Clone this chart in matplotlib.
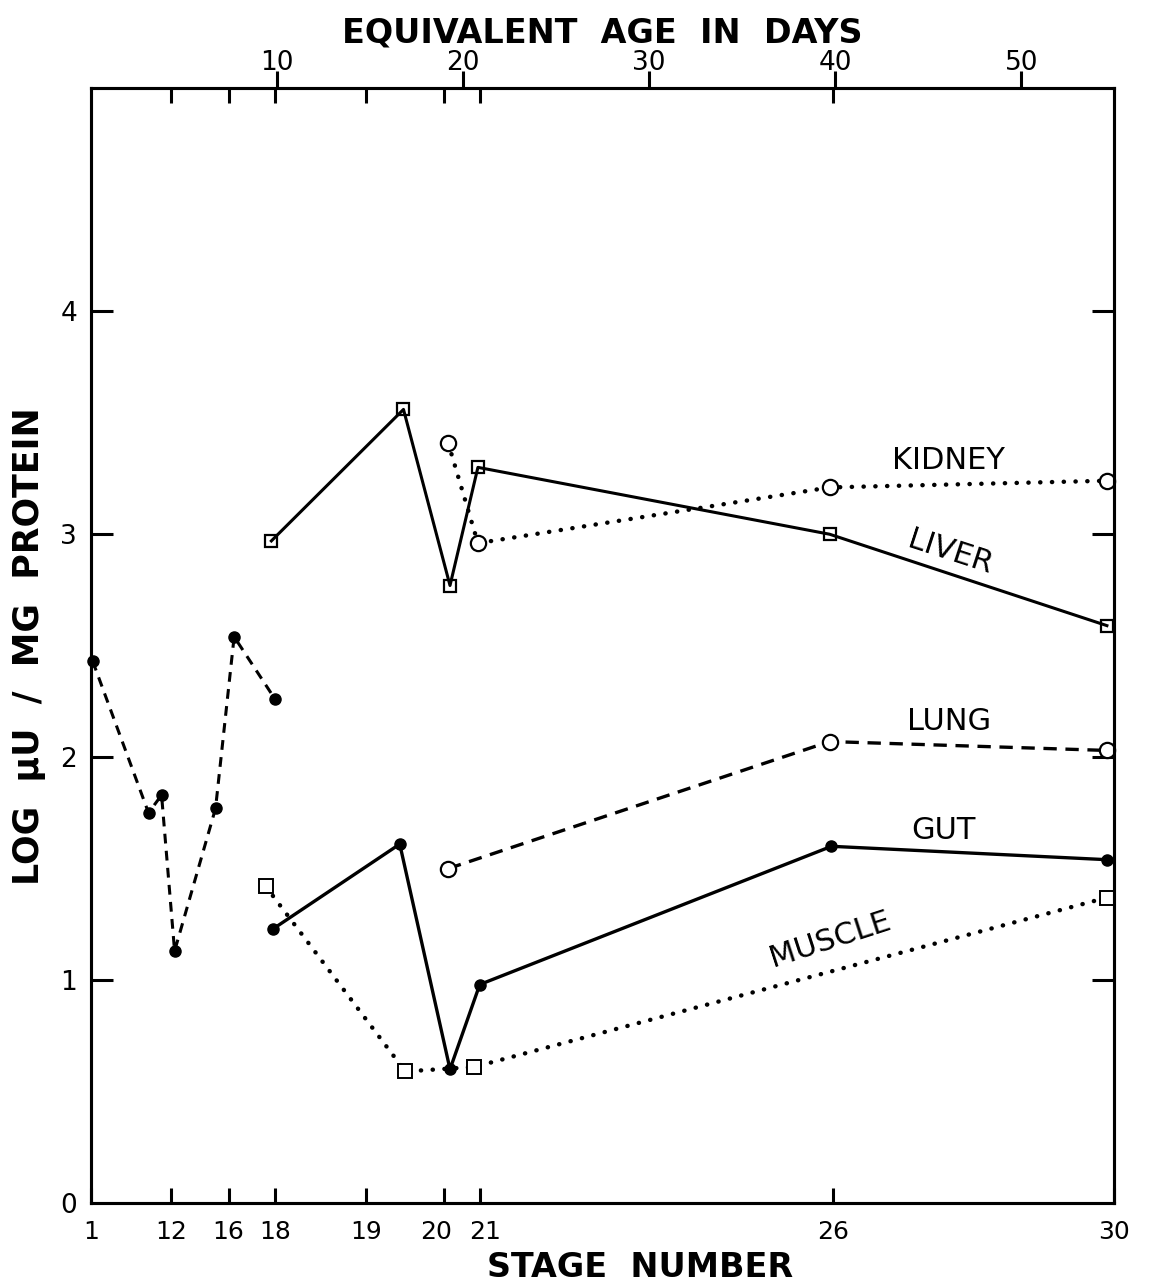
import numpy as np
import matplotlib.pyplot as plt
import matplotlib.transforms as mtransforms

# equivalent age (days) is the data x coordinate; stage numbers sit at these days
stage_labels = ['1', '12', '16', '18', '19', '20', '21', '26', '30']
stage_days = [0, 4.3, 7.4, 9.9, 14.8, 19.0, 20.9, 39.9, 55]
age_ticks = [10, 20, 30, 40, 50]

# early stages (whole embryo), filled circles, dashed
early_x = [0.1, 3.1, 3.8, 4.5, 6.7, 7.7, 9.9]
early_y = [2.43, 1.75, 1.83, 1.13, 1.77, 2.54, 2.26]

liver_x = [9.7, 16.8, 19.3, 20.8, 39.7, 54.6]
liver_y = [2.97, 3.56, 2.77, 3.30, 3.00, 2.59]

kidney_x = [19.2, 20.8, 39.7, 54.6]
kidney_y = [3.41, 2.96, 3.21, 3.24]

lung_x = [19.2, 39.7, 54.6]
lung_y = [1.50, 2.07, 2.03]

gut_x = [9.8, 16.6, 19.3, 20.9, 39.8, 54.6]
gut_y = [1.23, 1.61, 0.60, 0.98, 1.60, 1.54]

muscle_x = [9.4, 16.9, 20.6, 54.6]
muscle_y = [1.42, 0.59, 0.61, 1.37]

plt.rcParams['font.family'] = 'DejaVu Sans'
fig = plt.figure(figsize=(11.5, 12.87), dpi=100)
ax = fig.add_axes([0.079, 0.0653, 0.89, 0.866])

dotted = (0, (0.05, 2.6))
dashed = (0, (4, 2.6))

ax.plot(early_x, early_y, color='black', lw=2.2, linestyle=(0, (3.2, 2.4)),
        marker='o', ms=8, mfc='black', mec='black', clip_on=False)
ax.plot(liver_x, liver_y, color='black', lw=2.2, linestyle='-',
        marker='s', ms=9, mfc='none', mec='black', mew=1.6, clip_on=False)
ax.plot(kidney_x, kidney_y, color='black', lw=3.2, linestyle=dotted,
        dash_capstyle='round', marker='o', ms=11, mfc='white', mec='black',
        mew=1.6, clip_on=False)
ax.plot(lung_x, lung_y, color='black', lw=2.4, linestyle=dashed,
        marker='o', ms=11, mfc='white', mec='black', mew=1.6, clip_on=False)
ax.plot(gut_x, gut_y, color='black', lw=2.4, linestyle='-',
        marker='o', ms=8, mfc='black', mec='black', clip_on=False)
ax.plot(muscle_x, muscle_y, color='black', lw=3.2, linestyle=dotted,
        dash_capstyle='round', marker='s', ms=10, mfc='white', mec='black',
        mew=1.4, clip_on=False)

lab = dict(fontsize=22, ha='center', va='center', color='black')
ax.text(46.1, 3.33, 'KIDNEY', **lab)
ax.text(46.2, 2.92, 'LIVER', rotation=-18, **lab)
ax.text(46.1, 2.16, 'LUNG', **lab)
ax.text(45.8, 1.67, 'GUT', **lab)
ax.text(39.7, 1.18, 'MUSCLE', rotation=18, **lab)

ax.set_xlim(0, 55)
ax.set_ylim(0, 5)

for s in ax.spines.values():
    s.set_linewidth(2.2)

# bottom: stage numbers
ax.set_xticks(stage_days)
ax.set_xticklabels(stage_labels, fontsize=18)
ax.tick_params(axis='x', direction='in', length=11, width=2.2, pad=12,
               top=False)
# pull the crowded "20" and "21" apart a little
for lbl, dx in zip(ax.get_xticklabels()[5:7], (-8, 5)):
    lbl.set_transform(lbl.get_transform() +
                      mtransforms.ScaledTranslation(dx / 100, 0, fig.dpi_scale_trans))
ax.set_xlabel('STAGE  NUMBER', fontsize=24, fontweight='bold')
ax.xaxis.set_label_coords(0.537, -0.043)

# y axis
ax.set_yticks([0, 1, 2, 3, 4])
ax.set_yticklabels(['0', '1', '2', '3', '4'], fontsize=19)
ax.tick_params(axis='y', direction='in', length=16, width=2.2, pad=10,
               right=True)
ax.yaxis.get_major_ticks()[0].tick1line.set_visible(False)
ax.yaxis.get_major_ticks()[0].tick2line.set_visible(False)
ax.set_ylabel('LOG  μU  /  MG  PROTEIN', fontsize=25, fontweight='bold',
              labelpad=10)

# top: equivalent age in days
ax2 = ax.twiny()
ax2.set_xlim(ax.get_xlim())
ax2.set_xticks(age_ticks)
ax2.set_xticklabels([str(t) for t in age_ticks], fontsize=19)
ax2.set_xticks(stage_days[1:-1], minor=True)
ax2.tick_params(axis='x', which='major', direction='out', length=12,
                width=2.2, pad=-3)
ax2.tick_params(axis='x', which='minor', direction='in', length=11,
                width=2.2)
ax2.set_xlabel('EQUIVALENT  AGE  IN  DAYS', fontsize=24, fontweight='bold',
               labelpad=5)
for s in ax2.spines.values():
    s.set_linewidth(2.2)

fig.savefig('out.png', dpi=100)
